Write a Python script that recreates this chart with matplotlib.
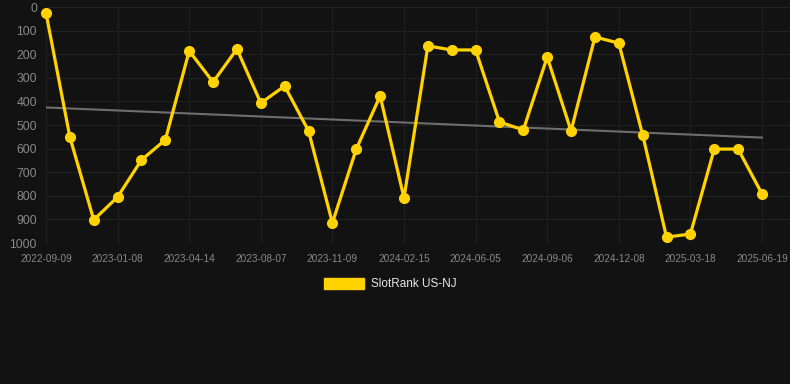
"""SlotRank US-NJ rank history with a linear trend line (dark theme)."""

import numpy as np
import matplotlib
matplotlib.use("Agg")
import matplotlib.pyplot as plt
from matplotlib.patches import Patch

plt.rcParams["font.family"] = ["Liberation Sans", "DejaVu Sans"]

# rank per sample, 31 samples, lower is better (axis is inverted)
ranks = [25, 551, 902, 805, 648, 563, 186, 318, 178, 407, 335, 525, 915, 602, 377,
         809, 165, 182, 182, 487, 521, 212, 525, 127, 153, 542, 975, 962, 602, 602, 792]
# only every third sample carries a date label
tick_labels = ["2022-09-09", "2023-01-08", "2023-04-14", "2023-08-07", "2023-11-09",
               "2024-02-15", "2024-06-05", "2024-09-06", "2024-12-08", "2025-03-18",
               "2025-06-19"]
tick_step = 3
series_name = "SlotRank US-NJ"

bg = "#121212"
gold = "#FFD200"
grid_c = "#202020"
text_c = "#888888"

x = np.arange(len(ranks))
slope, icpt = np.polyfit(x, ranks, 1)

fig = plt.figure(figsize=(7.9, 3.84), dpi=100, facecolor=bg)
W, H = 790, 384
ax = fig.add_axes([46 / W, 1 - 243 / H, (790 - 46) / W, (243 - 7) / H], facecolor=bg)

ax.plot(x, slope * x + icpt, color="#6e6e6e", lw=1.5, zorder=2)
ax.plot(x, ranks, color=gold, lw=2.3, marker="o", ms=7, zorder=3, clip_on=False)

# last sample sits a little inside the right edge of the plot area
ax.set_xlim(0, (len(ranks) - 1) * (790 - 46) / (762 - 46))
ax.set_ylim(1000, 0)
ax.set_yticks(range(0, 1001, 100))
ax.set_xticks(x[::tick_step])
ax.set_xticklabels(tick_labels)
ax.grid(True, color=grid_c, lw=0.8)
ax.set_axisbelow(True)
for s in ax.spines.values():
    s.set_visible(False)
ax.tick_params(axis="y", length=0, pad=6.5, labelsize=8.8, labelcolor=text_c)
ax.tick_params(axis="x", length=0, pad=8, labelsize=7.2, labelcolor=text_c)

handle = Patch(facecolor=gold, edgecolor=gold)
fig.legend([handle], [series_name], loc="center", bbox_to_anchor=(390 / W, 1 - 284 / H),
           frameon=False, labelcolor="#e6e6e6", fontsize=8.5,
           handlelength=3.4, handleheight=1.1, handletextpad=0.6)

fig.savefig("out.png", dpi=100, facecolor=bg)
